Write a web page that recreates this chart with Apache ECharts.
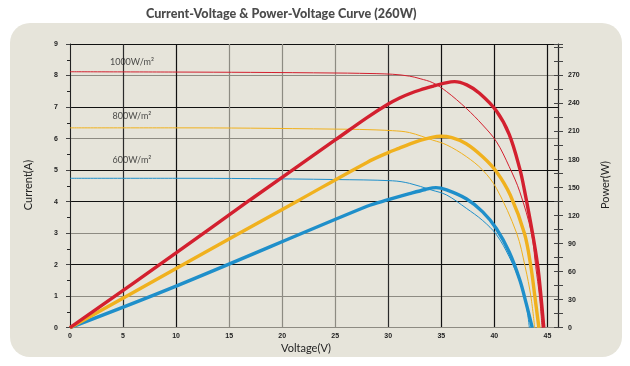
<!DOCTYPE html>
<html><head><meta charset="utf-8">
<script src="https://cdn.jsdelivr.net/npm/echarts@6/dist/echarts.min.js"></script>
<style>
html,body{margin:0;padding:0;background:#fff;}
#bg{position:absolute;left:10px;top:23px;width:612px;height:334px;border-radius:20px;background:#e6e4da;}
#chart{position:absolute;left:0;top:0;width:630px;height:366px;}
</style></head><body>
<div id="bg"></div><div id="chart"></div>
<script>
// ---- text ----
const chartTitle = 'Current-Voltage & Power-Voltage Curve (260W)';
const xName = 'Voltage(V)';
const yLeftName = 'Current(A)';
const yRightName = 'Power(W)';
const irradianceLabels = ['1000W/m²', '800W/m²', '600W/m²'];
const labelAnchors = [[5.84, 8.42], [5.84, 6.72], [5.84, 5.32]];

// ---- ticks ----
const voltageTicks = [0, 5, 10, 15, 20, 25, 30, 35, 40, 45];
const currentTicks = [0, 1, 2, 3, 4, 5, 6, 7, 8, 9];
const powerTicks = [0, 30, 60, 90, 120, 150, 180, 210, 240, 270];

// ---- I-V curves [V, A] ----
const current1000 = [[0,8.12],[10,8.11],[17,8.10],[25,8.08],[27.3,8.07],[30.4,8.04],[32,7.98],[33,7.9],[34.2,7.77],[35.5,7.49],[37.35,6.96],[38.9,6.43],[40.2,5.9],[41.4,5.11],[42.4,4.31],[43.5,3.0],[43.9,1.94],[44.26,0.98],[44.5,0]];
const current800 = [[0,6.34],[10,6.34],[17,6.33],[25,6.30],[27.3,6.29],[30.4,6.25],[32,6.19],[34.2,5.95],[35.5,5.8],[37.35,5.43],[38.9,5.0],[40.2,4.42],[42.1,3.0],[42.9,1.94],[43.45,0.98],[43.8,0]];
const current600 = [[0,4.74],[10,4.74],[17,4.73],[25,4.70],[30.4,4.66],[32,4.58],[34.05,4.37],[35.5,4.21],[37.35,3.79],[38.9,3.4],[40.2,2.95],[41.4,2.25],[42.4,1.46],[43.0,0.72],[43.3,0]];

// ---- P-V curves [V, W] ----
const power1000 = [[0,0],[10,80],[17,137],[25,201],[28,225],[30,239.5],[31.07,246],[32,250.5],[33,254.5],[34.2,258.5],[35.2,261.5],[36.25,263.5],[37.4,260],[38.6,251],[40.2,232],[41.4,207],[42.4,170],[42.84,147],[43.6,101],[44.1,65],[44.4,33],[44.66,0]];
const power800 = [[0,0],[10,63.4],[21.5,136],[28,177],[30,187.5],[31,192],[32,196.5],[33,200.5],[34,203.5],[34.9,205],[36,203.5],[37.35,197],[38.9,183],[40.2,167],[41.5,142],[42.84,100.8],[43.45,65],[43.8,35],[44.2,0]];
const power600 = [[0,0],[10,44.5],[28,130],[30,137],[32,143.5],[33.5,148],[34.5,150],[35.5,147.5],[37.35,138],[38.9,124],[40.2,106],[41.4,81],[42.4,51],[43.0,26],[43.57,0]];

const RED = '#d3202f', YEL = '#f0b11e', BLU = '#1f8fca';
const FONT = 'Lato';
const TICKFONT = {fontSize: 7, color: '#222', fontFamily: 'Liberation Sans', fontWeight: 'bold'};

const chart = echarts.init(document.getElementById('chart'), null, {renderer: 'canvas'});

function thin(data, color, z) {
  return {type: 'line', data, xAxisIndex: 0, yAxisIndex: 0, showSymbol: false, symbol: 'none',
    smooth: 0.35, lineStyle: {color, width: 1}, z, silent: true, animation: false};
}
function thick(data, color, z) {
  return {type: 'line', data, xAxisIndex: 0, yAxisIndex: 1, showSymbol: false, symbol: 'none',
    smooth: 0.35, lineStyle: {color, width: 3.4}, z, silent: true, animation: false};
}

const xSplitColors = ['#8d8b82','#2a2a2a','#111','#8d8b82','#8d8b82','#8d8b82','#2a2a2a','#111','#111','#111','#111'];
const ySplitColors = ['#8d8b82','#8d8b82','#111','#8d8b82','#111','#111','#8d8b82','#111','#8d8b82','#111'];

chart.setOption({
  animation: false,
  title: {text: chartTitle, left: 141, top: 2,
    textStyle: {fontFamily: FONT, fontWeight: 900, fontSize: 12.6, color: '#4b4b4b'}},
  grid: {left: 70, right: 72, top: 44, bottom: 38.3},
  xAxis: [{
    type: 'value', min: 0, max: 46, interval: 5,
    axisLine: {show: true, onZero: false, lineStyle: {color: '#8d8b82', width: 1.2}},
    axisTick: {show: false},
    axisLabel: Object.assign({margin: 5, formatter: v => voltageTicks.includes(v) ? String(v) : ''}, TICKFONT),
    splitLine: {show: true, lineStyle: {color: xSplitColors, width: 1.2}}
  }],
  yAxis: [{
    type: 'value', position: 'left', min: 0, max: 9, interval: 1,
    axisLine: {show: true, onZero: false, lineStyle: {color: '#222', width: 1}},
    axisTick: {show: true, inside: false, length: 4, lineStyle: {color: '#444'}},
    minorTick: {show: true, splitNumber: 2, length: 3, lineStyle: {color: '#222'}},
    axisLabel: Object.assign({margin: 12, formatter: v => currentTicks.includes(v) ? String(v) : ''}, TICKFONT),
    splitLine: {show: true, lineStyle: {color: ySplitColors, width: 1.2}}
  }, {
    type: 'value', position: 'right', min: 0, max: 303.75, interval: 30,
    axisLine: {show: true, onZero: false, lineStyle: {color: '#222', width: 1}},
    axisTick: {show: true, inside: false, length: 5, lineStyle: {color: '#444'}},
    minorTick: {show: true, splitNumber: 2, length: 5, lineStyle: {color: '#444'}},
    axisLabel: Object.assign({margin: 10, formatter: v => powerTicks.includes(v) ? String(v) : ''}, TICKFONT),
    splitLine: {show: false}
  }, {
    type: 'value', position: 'left', min: 0, max: 9, interval: 1,
    axisLine: {show: false}, axisLabel: {show: false}, splitLine: {show: false},
    axisTick: {show: false},
    minorTick: {show: true, splitNumber: 2, length: 3, lineStyle: {color: '#222'}}
  }, {
    type: 'value', position: 'right', min: 0, max: 303.75, interval: 30,
    axisLine: {show: false}, axisLabel: {show: false}, splitLine: {show: false},
    axisTick: {show: true, inside: true, length: 4, lineStyle: {color: '#444'}},
    minorTick: {show: true, splitNumber: 2, length: 4, lineStyle: {color: '#444'}}
  }],
  graphic: [
    {type: 'text', x: 28, y: 185, rotation: Math.PI / 2,
      style: {text: yLeftName, font: '11px ' + FONT, fill: '#222', align: 'center', verticalAlign: 'middle'}},
    {type: 'text', x: 605, y: 185, rotation: Math.PI / 2,
      style: {text: yRightName, font: '11px ' + FONT, fill: '#222', align: 'center', verticalAlign: 'middle'}},
    {type: 'text', x: 306, y: 348,
      style: {text: xName, font: '11px ' + FONT, fill: '#222', align: 'center', verticalAlign: 'middle'}}
  ],
  series: [
    thin(current600, BLU, 2), thin(current800, YEL, 2), thin(current1000, RED, 2),
    thick(power600, BLU, 3), thick(power800, YEL, 3), thick(power1000, RED, 3),
    {type: 'scatter', xAxisIndex: 0, yAxisIndex: 0, symbolSize: 0, silent: true, z: 4,
      data: irradianceLabels.map((t, i) => ({value: labelAnchors[i], name: t})),
      label: {show: true, position: 'inside', formatter: p => p.name,
        fontFamily: FONT, fontSize: 9, color: '#222'}}
  ]
});
</script>
</body></html>
